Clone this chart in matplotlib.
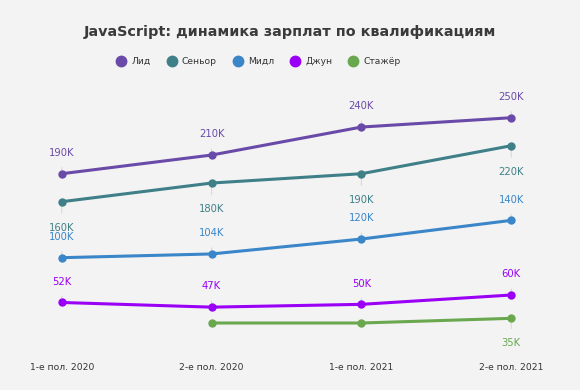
import numpy as np
import matplotlib.pyplot as plt
from matplotlib.lines import Line2D

plt.rcParams['font.family'] = ['DejaVu Sans']

# данные
periods = ['1-е пол. 2020', '2-е пол. 2020', '1-е пол. 2021', '2-е пол. 2021']
names = ['Лид', 'Сеньор', 'Мидл', 'Джун', 'Стажёр']
lead = [190, 210, 240, 250]
senior = [160, 180, 190, 220]
middle = [100, 104, 120, 140]
junior = [52, 47, 50, 60]
intern = [np.nan, 30, 30, 35]
intern_labels = ['', '', '', '35K']

colors = ['#6a4aa8', '#3e7f88', '#3a86c8', '#9900f5', '#6aa84f']
bg = '#f3f3f3'

fig = plt.figure(figsize=(5.8, 3.9), dpi=100, facecolor=bg)
ax = fig.add_axes([0.029, 0.1, 0.93, 0.646], facecolor=bg)

x = np.arange(len(periods))
series = [lead, senior, middle, junior, intern]
# смещение подписи (pt): вверх или вниз
offsets = [15, -19, 15, 15, -18]

for i, (vals, c, off) in enumerate(zip(series, colors, offsets)):
    ax.plot(x, vals, color=c, lw=2.2, marker='o', ms=5, zorder=3)
    for j, v in enumerate(vals):
        if np.isnan(v):
            continue
        if i == 4:
            txt = intern_labels[j]
            if not txt:
                continue
        else:
            txt = f'{v}K'
        ax.annotate(txt, xy=(x[j], v), xytext=(0, off), textcoords='offset points',
                    ha='center', va='center', color=c, fontsize=7.2,
                    arrowprops=dict(arrowstyle='-', color='#d9d9d9', lw=0.8,
                                    shrinkA=5, shrinkB=2), zorder=2)

ax.set_xlim(-0.3, 3.3)
ax.set_ylim(0, 270)
ax.set_xticks(x)
ax.set_xticklabels(periods, fontsize=6.6, color='#333333')
ax.tick_params(axis='x', length=0, pad=9)
ax.set_yticks([])
for s in ax.spines.values():
    s.set_visible(False)

fig.text(0.5, 0.918, 'JavaScript: динамика зарплат по квалификациям',
         ha='center', va='center', fontsize=10.4, fontweight='bold', color='#3a3a3a')

handles = [Line2D([], [], marker='o', ls='none', color=c, ms=7.5) for c in colors]
fig.legend(handles, names, loc='center', bbox_to_anchor=(0.442, 0.843), ncol=5,
           frameon=False, fontsize=6.6, handletextpad=0.1, columnspacing=1.3,
           labelcolor='#333333')

fig.savefig('out.png', dpi=100, facecolor=bg)
